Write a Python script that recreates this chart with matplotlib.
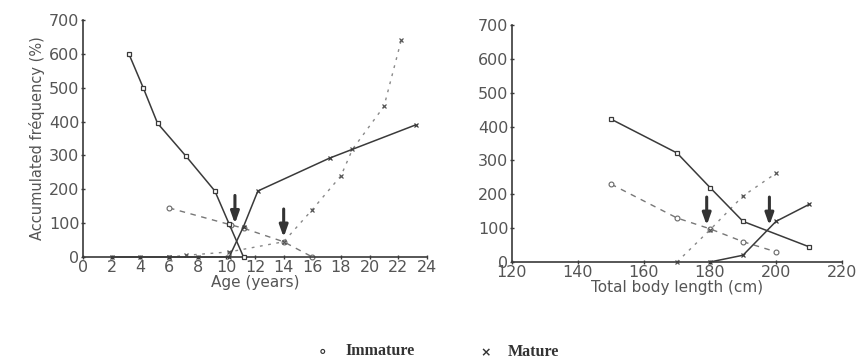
import matplotlib
matplotlib.use("Agg")
import matplotlib.pyplot as plt

# ---- Left panel: Age (years)
age_imm_solid_x = [3.2, 4.2, 5.2, 7.2, 9.2, 10.2, 11.2]
age_imm_solid_y = [600, 500, 395, 297, 195, 97, 0]
age_mat_solid_x = [2, 4, 6, 8, 10.2, 11.2, 12.2, 17.2, 23.2]
age_mat_solid_y = [0, 0, 0, 0, 0, 90, 195, 292, 390]
age_imm_dash_x = [6, 10.3, 11.2, 14, 16]
age_imm_dash_y = [145, 95, 85, 45, 0]
age_mat_dash_x = [6, 7.2, 10.2, 14, 16, 18, 18.8, 21, 22.2]
age_mat_dash_y = [0, 5, 15, 45, 140, 240, 318, 445, 640]
age_arrows_x = [10.6, 14.0]
age_arrows_top = [190, 150]
age_arrows_bot = [90, 50]

# ---- Right panel: Total body length (cm)
len_imm_solid_x = [150, 170, 180, 190, 210]
len_imm_solid_y = [422, 322, 220, 120, 45]
len_mat_solid_x = [180, 190, 200, 210]
len_mat_solid_y = [0, 20, 120, 170]
len_imm_dash_x = [150, 170, 180, 190, 200]
len_imm_dash_y = [230, 130, 98, 60, 30]
len_mat_dash_x = [170, 180, 190, 200]
len_mat_dash_y = [0, 95, 195, 262]
len_arrows_x = [179, 198]
len_arrows_top = [200, 200]
len_arrows_bot = [100, 100]

yticks = [0, 100, 200, 300, 400, 500, 600, 700]
age_ticks = list(range(0, 25, 2))
len_ticks = [120, 140, 160, 180, 200, 220]

LC = "#3a3a3a"
TC = "#555555"

fig = plt.figure(figsize=(8.57, 3.64), dpi=100)
axL = fig.add_axes([83/857, 1-257/364, (427-83)/857, (257-20)/364])
axR = fig.add_axes([512/857, 1-262/364, (842-512)/857, (262-25)/364])


def style(ax):
    for s in ["top", "right"]:
        ax.spines[s].set_visible(False)
    for s in ["left", "bottom"]:
        ax.spines[s].set_color(LC)
        ax.spines[s].set_linewidth(1.2)
    ax.tick_params(direction="inout", length=3, width=1, colors=LC,
                   labelcolor=TC, labelsize=11.5, pad=1)
    ax.set_yticks(yticks)
    ax.set_ylim(0, 700)


def draw(ax, isx, isy, msx, msy, idx, idy, mdx, mdy, ax_x, ax_t, ax_b):
    ax.plot(isx, isy, color=LC, lw=1.1, marker="s", ms=3.5, mfc="white",
            mec=LC, mew=0.9, clip_on=False, zorder=3)
    ax.plot(msx, msy, color=LC, lw=1.1, marker="x", ms=2.5, mew=0.9,
            clip_on=False, zorder=3)
    ax.plot(idx, idy, color="#777777", lw=1.0, ls=(0, (4, 4)), marker="o",
            ms=3.5, mfc="white", mec="#666666", mew=0.8, clip_on=False, zorder=2)
    ax.plot(mdx, mdy, color="#888888", lw=1.0, ls=(0, (2, 4)), marker="x",
            ms=2.5, mew=0.9, mec="#555555", clip_on=False, zorder=2)
    for x, t, b in zip(ax_x, ax_t, ax_b):
        ax.annotate("", xy=(x, b), xytext=(x, t),
                    arrowprops=dict(arrowstyle="-|>,head_width=0.25,head_length=0.7",
                                    color="#333333", lw=2.2), zorder=4)


style(axL)
axL.set_xlim(0, 24)
axL.set_xticks(age_ticks)
draw(axL, age_imm_solid_x, age_imm_solid_y, age_mat_solid_x, age_mat_solid_y,
     age_imm_dash_x, age_imm_dash_y, age_mat_dash_x, age_mat_dash_y,
     age_arrows_x, age_arrows_top, age_arrows_bot)
axL.set_xlabel("Age (years)", color=TC, fontsize=11, labelpad=0)
axL.set_ylabel("Accumulated fréquency (%)", color=TC, fontsize=10.5, labelpad=3)

style(axR)
axR.set_xlim(120, 220)
axR.set_xticks(len_ticks)
draw(axR, len_imm_solid_x, len_imm_solid_y, len_mat_solid_x, len_mat_solid_y,
     len_imm_dash_x, len_imm_dash_y, len_mat_dash_x, len_mat_dash_y,
     len_arrows_x, len_arrows_top, len_arrows_bot)
axR.set_xlabel("Total body length (cm)", color=TC, fontsize=11, labelpad=0)

# Legend (bottom, centered)
fig.text(322/857, 1-352/364, "∘", fontsize=11, color="#333333",
         ha="center", va="center", fontweight="bold")
fig.text(345/857, 1-351/364, "Immature", fontsize=11.5, color="#333333",
         ha="left", va="center", family="Liberation Serif", fontweight="bold")
fig.text(486/857, 1-353/364, "×", fontsize=9, color="#333333",
         ha="center", va="center", fontweight="bold")
fig.text(508/857, 1-352/364, "Mature", fontsize=11.5, color="#333333",
         ha="left", va="center", family="Liberation Serif", fontweight="bold")

fig.savefig("out.png", dpi=100)
